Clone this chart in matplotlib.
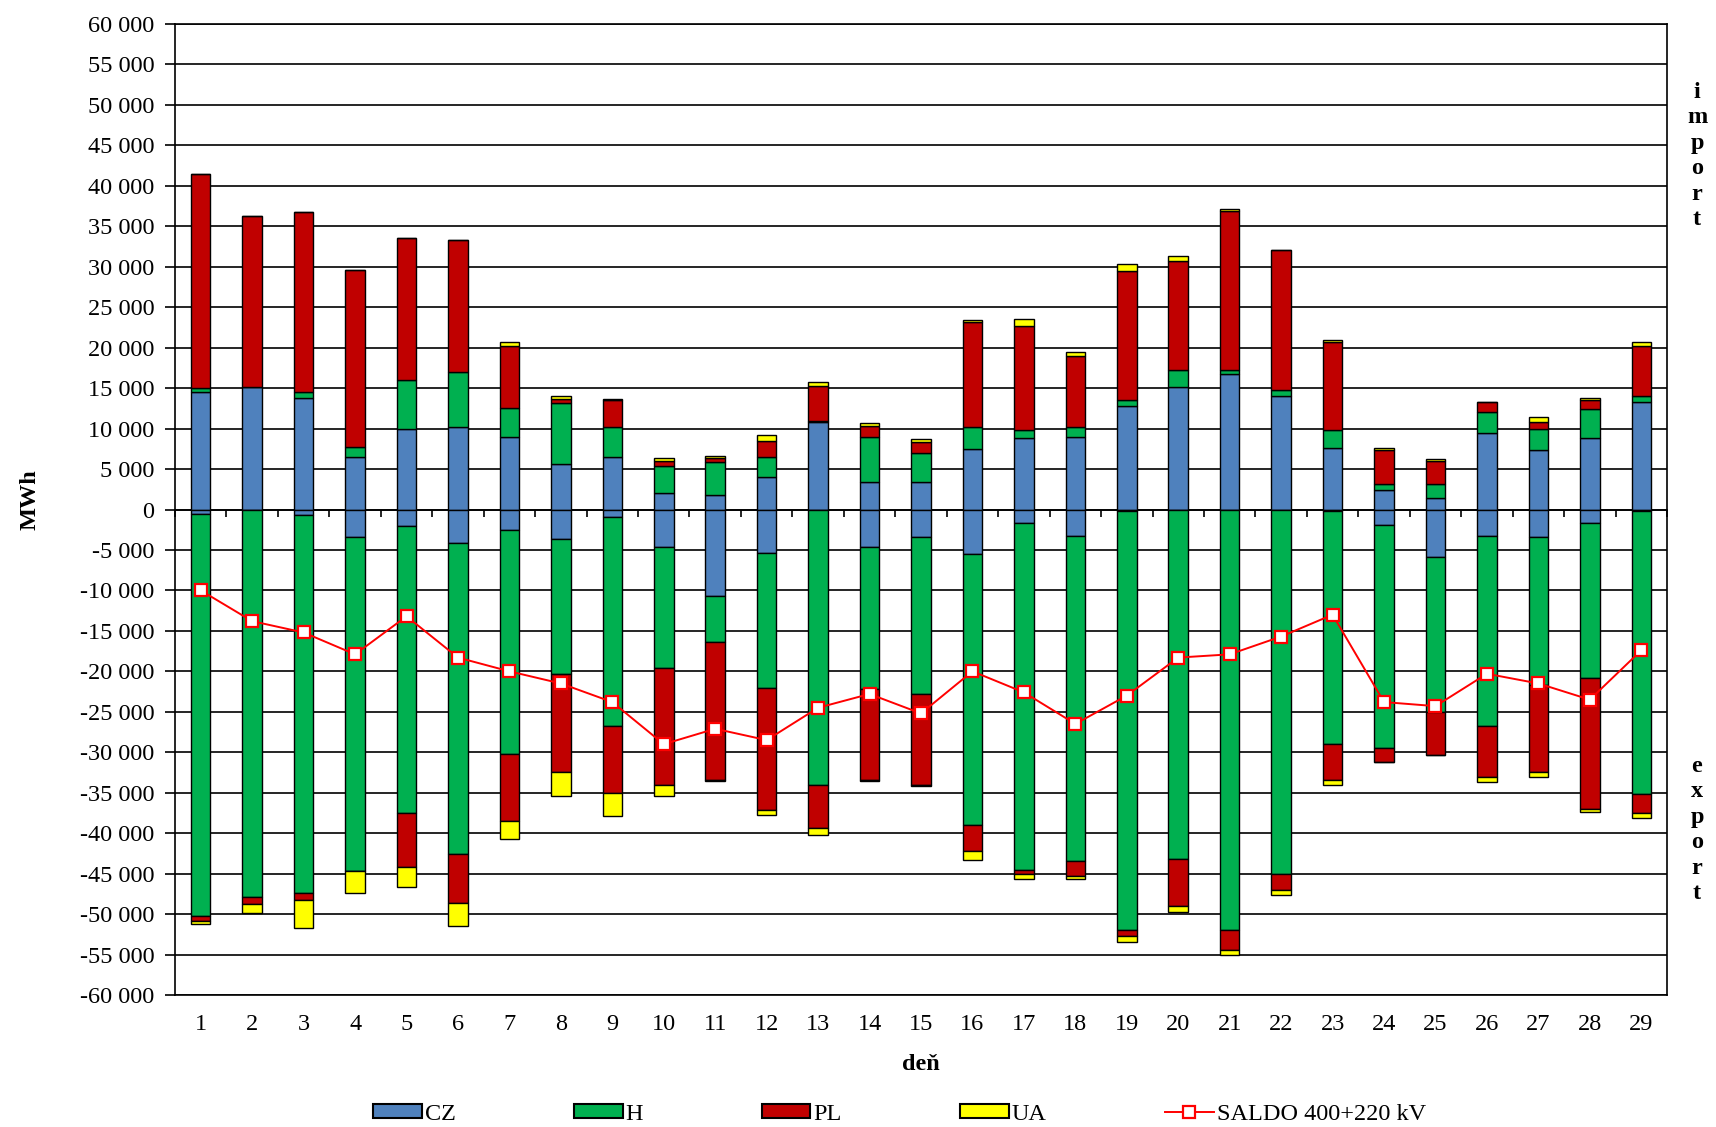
import numpy as np
import matplotlib
matplotlib.use("Agg")
import matplotlib.pyplot as plt
from matplotlib.patches import Patch
from matplotlib.lines import Line2D
from matplotlib.ticker import FuncFormatter, MultipleLocator, FixedLocator

days = list(range(1, 30))

cz_pos = [14500, 15100, 13800, 6500, 10000, 10200, 9000, 5600, 6500, 2100, 1800, 4000, 10800, 3400, 3400,
          7500, 8800, 9000, 12800, 15200, 16700, 14000, 7600, 2400, 1400, 9500, 7300, 8800, 13300]
h_pos = [500, 100, 700, 1200, 6000, 6800, 3500, 7500, 3700, 3300, 4100, 2500, 100, 5600, 3600,
         2700, 1000, 1200, 700, 2000, 500, 800, 2200, 700, 1700, 2500, 2700, 3600, 700]
pl_pos = [26500, 21100, 22300, 21900, 17500, 16300, 7700, 500, 3300, 600, 500, 2000, 4400, 1300, 1300,
          13000, 12900, 8800, 16000, 13500, 19700, 17300, 10900, 4200, 2900, 1300, 800, 1100, 6200]
ua_pos = [0, 0, 0, 0, 0, 0, 500, 400, 150, 400, 150, 700, 400, 400, 400,
          250, 800, 500, 800, 600, 250, 0, 250, 250, 250, 0, 600, 250, 500]

cz_neg = [-500, 0, -700, -3450, -2100, -4200, -2500, -3700, -900, -4650, -10700, -5400, 0, -4650, -3450,
          -5450, -1700, -3250, -200, 0, 0, 0, -200, -1900, -5900, -3250, -3450, -1700, -200]
h_neg = [-49700, -47900, -46750, -41250, -35350, -38400, -27700, -16650, -25800, -14950, -5700, -16700, -34000,
         -17550, -19350, -33550, -42900, -40250, -51800, -43200, -52000, -45000, -28800, -27600, -19100,
         -23550, -18250, -19100, -35000]
pl_neg = [-600, -900, -800, 0, -6750, -6000, -8300, -12100, -8300, -14400, -17000, -15000, -5300, -11200, -11200,
          -3200, -400, -1800, -700, -5800, -2500, -2000, -4400, -1700, -5400, -6300, -10800, -16200, -2300]
ua_neg = [-400, -1100, -3450, -2700, -2500, -2900, -2200, -3000, -2900, -1450, -200, -600, -900, -200, -200,
          -1100, -700, -400, -700, -700, -600, -700, -600, 0, 0, -600, -500, -400, -600]

saldo = [-10000, -13800, -15200, -17900, -13200, -18300, -20000, -21500, -23800, -29000, -27100, -28500, -24500,
         -22800, -25200, -20000, -22600, -26500, -23000, -18300, -17900, -15700, -13000, -23800, -24300,
         -20300, -21500, -23500, -17400]

series_names = ["CZ", "H", "PL", "UA"]
saldo_name = "SALDO 400+220 kV"
colors = ["#4F81BD", "#00B050", "#C00000", "#FFFF00"]

plt.rcParams['font.family'] = ['Liberation Serif', 'DejaVu Serif']
FS = 17.5

W, H = 1716, 1127
fig = plt.figure(figsize=(W / 100, H / 100), dpi=100)
L, R, T, B = 175, 1667, 24, 995
ax = fig.add_axes([L / W, 1 - B / H, (R - L) / W, (B - T) / H])

x = np.arange(len(days))
w = 0.38
pos_series = [cz_pos, h_pos, pl_pos, ua_pos]
neg_series = [cz_neg, h_neg, pl_neg, ua_neg]
bottom = np.zeros(len(days))
for vals, c in zip(pos_series, colors):
    v = np.array(vals, float)
    ax.bar(x, v, w, bottom=bottom, color=c, edgecolor='black', linewidth=1.0, zorder=3)
    bottom += v
bottom = np.zeros(len(days))
for vals, c in zip(neg_series, colors):
    v = np.array(vals, float)
    ax.bar(x, v, w, bottom=bottom, color=c, edgecolor='black', linewidth=1.0, zorder=3)
    bottom += v

ax.plot(x, saldo, color='#FF0000', lw=1.4, marker='s', markersize=9, markerfacecolor='white',
        markeredgecolor='#FF0000', markeredgewidth=1.6, zorder=5)

ax.set_xlim(-0.5, len(days) - 0.5)
ax.set_ylim(-60000, 60000)
ax.yaxis.set_major_locator(MultipleLocator(5000))
ax.yaxis.set_major_formatter(FuncFormatter(lambda v, p: f"{int(v):,}".replace(",", " ")))
ax.grid(axis='y', color='black', lw=1.2, zorder=0)
ax.set_axisbelow(True)
ax.tick_params(axis='y', labelsize=FS, length=7, width=1.2, direction='out', pad=8)

# zero axis with category-boundary ticks
ax.spines['bottom'].set_position(('data', 0))
ax.xaxis.set_major_locator(FixedLocator(np.arange(len(days) + 1) - 0.5))
ax.tick_params(axis='x', which='major', labelbottom=False, length=5, width=1.2, direction='out')
for s in ['left', 'right', 'top', 'bottom']:
    ax.spines[s].set_linewidth(1.2)

sec = ax.secondary_xaxis(0.0)
sec.set_xticks(x)
sec.set_xticklabels([str(d) for d in days])
sec.tick_params(length=0, labelsize=FS, pad=14)
sec.spines['bottom'].set_linewidth(1.2)
sec.set_xlabel("deň", fontsize=FS, fontweight='bold', labelpad=13)

ax.set_ylabel("MWh", fontsize=FS, fontweight='bold')
ax.yaxis.set_label_coords((41 - L) / (R - L), (B - 500) / (B - T))

fig.text(1697 / W, 1 - 156 / H, "i\nm\np\no\nr\nt", ha='center', va='center', fontsize=FS,
         fontweight='bold', linespacing=1.28)
fig.text(1697 / W, 1 - 830 / H, "e\nx\np\no\nr\nt", ha='center', va='center', fontsize=FS,
         fontweight='bold', linespacing=1.28)

handles = [Patch(facecolor=c, edgecolor='black', linewidth=1.5) for c in colors]
handles.append(Line2D([0], [0], color='#FF0000', lw=1.4, marker='s', markersize=9,
                      markerfacecolor='white', markeredgecolor='#FF0000', markeredgewidth=1.6))
labels = series_names + [saldo_name]
fig.legend(handles, labels, loc='center left', bbox_to_anchor=(373 / W, 1 - 1114 / H), ncol=5, frameon=False,
           fontsize=FS, handlelength=2.0, handleheight=0.5, handletextpad=0.12, columnspacing=4.88,
           borderpad=0, borderaxespad=0)

fig.savefig("out.png", dpi=100)
